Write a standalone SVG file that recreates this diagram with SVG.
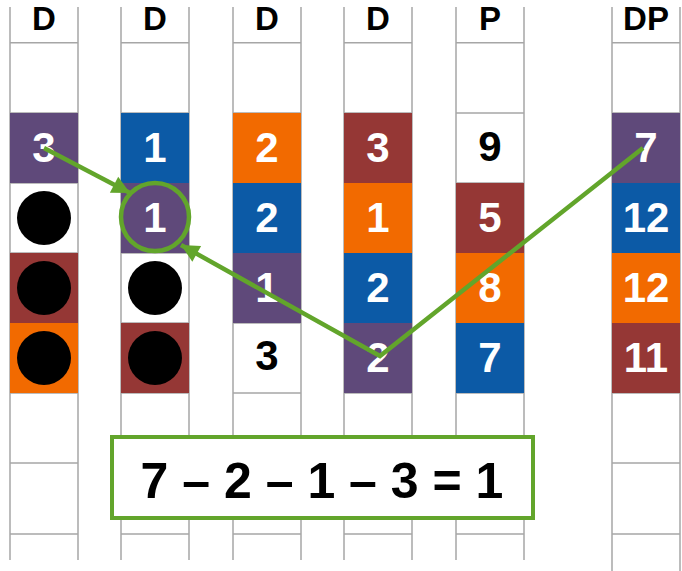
<svg xmlns="http://www.w3.org/2000/svg" width="682" height="571" viewBox="0 0 682 571">
<style>
.g{stroke:#a6a6a6;stroke-width:1.5;fill:none}
.num{font-family:"Liberation Sans",Arial,sans-serif;font-weight:bold;font-size:42px;text-anchor:middle;fill:#ffffff}
.dk{fill:#000000}
.hd{font-family:"Liberation Sans",Arial,sans-serif;font-weight:bold;font-size:33px;text-anchor:middle;fill:#000000}
.pu{fill:#5f497a}.bl{fill:#0c5aa6}.or{fill:#f26a00}.ma{fill:#953735}
.dot{fill:#000000}
.con{stroke:#62a52b;stroke-width:4.5;fill:none}
</style>
<defs>
<marker id="ah" markerUnits="userSpaceOnUse" markerWidth="22" markerHeight="22" viewBox="0 0 22 22" refX="20" refY="11" orient="auto">
<path d="M2,2 L20,11 L2,20 Z" fill="#62a52b"/>
</marker>
</defs>

<g id="grid">
<path class="g" d="M10,7V560M78,7V560M121,7V560M189,7V560M233,7V560M301,7V560M344,7V560M412,7V560M456,7V560M524,7V560M612,7V571M680,7V571"/>
<path class="g" d="M10,42.7H78M121,42.7H189M233,42.7H301M344,42.7H412M456,42.7H524M612,42.7H680
M10,113H78M121,113H189M233,113H301M344,113H412M456,113H524M612,113H680
M10,183H78M121,183H189M233,183H301M344,183H412M456,183H524M612,183H680
M10,253H78M121,253H189M233,253H301M344,253H412M456,253H524M612,253H680
M10,323H78M121,323H189M233,323H301M344,323H412M456,323H524M612,323H680
M10,393H78M121,393H189M233,393H301M344,393H412M456,393H524M612,393H680
M10,463H78M121,463H189M233,463H301M344,463H412M456,463H524M612,463H680
M10,534H78M121,534H189M233,534H301M344,534H412M456,534H524M612,534H680"/>
</g>

<g id="headers">
<text class="hd" x="44" y="30">D</text>
<text class="hd" x="155" y="30">D</text>
<text class="hd" x="267" y="30">D</text>
<text class="hd" x="378" y="30">D</text>
<text class="hd" x="490" y="30">P</text>
<text class="hd" x="646" y="30">DP</text>
</g>

<g id="col1">
<g id="c1r1"><rect class="pu" x="10" y="113" width="68" height="70"/><text class="num" x="44" y="162">3</text></g>
<g id="c1r2"><circle class="dot" cx="44" cy="218" r="27"/></g>
<g id="c1r3"><rect class="ma" x="10" y="253" width="68" height="70"/><circle class="dot" cx="44" cy="288" r="27"/></g>
<g id="c1r4"><rect class="or" x="10" y="323" width="68" height="70"/><circle class="dot" cx="44" cy="358" r="27"/></g>
</g>

<g id="col2">
<g id="c2r1"><rect class="bl" x="121" y="113" width="68" height="70"/><text class="num" x="155" y="162">1</text></g>
<g id="c2r2"><rect class="pu" x="121" y="183" width="68" height="70"/><text class="num" x="155" y="232">1</text><circle cx="155" cy="217" r="34" fill="none" stroke="#62a52b" stroke-width="4.5"/></g>
<g id="c2r3"><circle class="dot" cx="155" cy="288" r="27"/></g>
<g id="c2r4"><rect class="ma" x="121" y="323" width="68" height="70"/><circle class="dot" cx="155" cy="358" r="27"/></g>
</g>

<g id="col3">
<g id="c3r1"><rect class="or" x="233" y="113" width="68" height="70"/><text class="num" x="267" y="162">2</text></g>
<g id="c3r2"><rect class="bl" x="233" y="183" width="68" height="70"/><text class="num" x="267" y="232">2</text></g>
<g id="c3r3"><rect class="pu" x="233" y="253" width="68" height="70"/><text class="num" x="267" y="302">1</text></g>
<g id="c3r4"><text class="num dk" x="267" y="370">3</text></g>
</g>

<g id="col4">
<g id="c4r1"><rect class="ma" x="344" y="113" width="68" height="70"/><text class="num" x="378" y="162">3</text></g>
<g id="c4r2"><rect class="or" x="344" y="183" width="68" height="70"/><text class="num" x="378" y="232">1</text></g>
<g id="c4r3"><rect class="bl" x="344" y="253" width="68" height="70"/><text class="num" x="378" y="302">2</text></g>
<g id="c4r4"><rect class="pu" x="344" y="323" width="68" height="70"/><text class="num" x="378" y="372">2</text></g>
</g>

<g id="col5">
<g id="c5r1"><text class="num dk" x="490" y="161">9</text></g>
<g id="c5r2"><rect class="ma" x="456" y="183" width="68" height="70"/><text class="num" x="490" y="232">5</text></g>
<g id="c5r3"><rect class="or" x="456" y="253" width="68" height="70"/><text class="num" x="490" y="302">8</text></g>
<g id="c5r4"><rect class="bl" x="456" y="323" width="68" height="70"/><text class="num" x="490" y="372">7</text></g>
</g>

<g id="col6">
<g id="c6r1"><rect class="pu" x="612" y="113" width="68" height="70"/><text class="num" x="646" y="162">7</text></g>
<g id="c6r2"><rect class="bl" x="612" y="183" width="68" height="70"/><text class="num" x="646" y="232">12</text></g>
<g id="c6r3"><rect class="or" x="612" y="253" width="68" height="70"/><text class="num" x="646" y="302">12</text></g>
<g id="c6r4"><rect class="ma" x="612" y="323" width="68" height="70"/><text class="num" x="646" y="372">11</text></g>
</g>

<g id="connectors">
<line class="con" x1="44" y1="148" x2="130" y2="193" marker-end="url(#ah)"/>
<polyline class="con" points="643,148 380,356 181,245" marker-end="url(#ah)"/>
</g>

<g id="formula">
<rect x="112" y="437" width="421" height="81" fill="#ffffff" stroke="#62a52b" stroke-width="4"/>
<text x="322" y="498" font-family="'Liberation Sans',Arial,sans-serif" font-weight="bold" font-size="50" text-anchor="middle" fill="#000000">7 – 2 – 1 – 3 = 1</text>
</g>
</svg>
